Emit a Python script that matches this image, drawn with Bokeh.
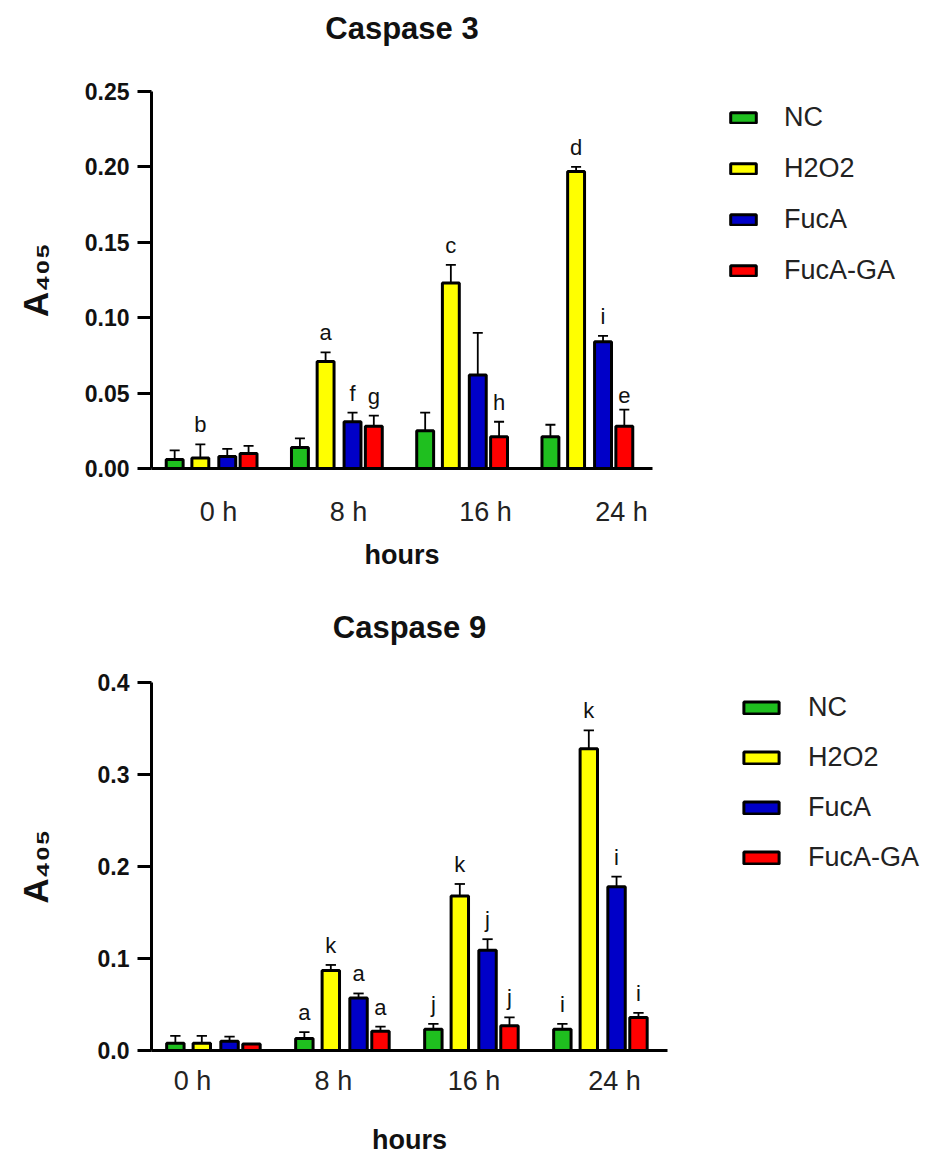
from bokeh.plotting import figure
from bokeh.models import (Range1d, FixedTicker, NumeralTickFormatter,
                          Legend, LegendItem, ColumnDataSource, Title)
from bokeh.layouts import column
from bokeh.embed import file_html
from bokeh.resources import INLINE
from bokeh.core.properties import value

# ---------------- data ----------------
groups = ["0 h", "8 h", "16 h", "24 h"]
series = ["NC", "H2O2", "FucA", "FucA-GA"]
colors = ["#1fbf1f", "#ffff00", "#0000c8", "#ff0000"]

# Caspase 3
c3_nc = [0.006, 0.014, 0.025, 0.021]
c3_h2o2 = [0.007, 0.071, 0.123, 0.197]
c3_fuca = [0.008, 0.031, 0.062, 0.084]
c3_fucaga = [0.010, 0.028, 0.021, 0.028]
c3_nc_err = [0.006, 0.006, 0.012, 0.008]
c3_h2o2_err = [0.009, 0.006, 0.012, 0.003]
c3_fuca_err = [0.005, 0.006, 0.028, 0.004]
c3_fucaga_err = [0.005, 0.007, 0.010, 0.011]
c3_nc_lab = ["", "", "", ""]
c3_h2o2_lab = ["b", "a", "c", "d"]
c3_fuca_lab = ["", "f", "", "i"]
c3_fucaga_lab = ["", "g", "h", "e"]
c3_yticks = [0.0, 0.05, 0.10, 0.15, 0.20, 0.25]

# Caspase 9
c9_nc = [0.008, 0.013, 0.023, 0.023]
c9_h2o2 = [0.008, 0.087, 0.168, 0.328]
c9_fuca = [0.010, 0.057, 0.109, 0.178]
c9_fucaga = [0.007, 0.021, 0.027, 0.036]
c9_nc_err = [0.008, 0.007, 0.006, 0.006]
c9_h2o2_err = [0.008, 0.006, 0.013, 0.020]
c9_fuca_err = [0.005, 0.005, 0.012, 0.011]
c9_fucaga_err = [0.0, 0.005, 0.009, 0.005]
c9_nc_lab = ["", "a", "j", "i"]
c9_h2o2_lab = ["", "k", "k", "k"]
c9_fuca_lab = ["", "a", "j", "i"]
c9_fucaga_lab = ["", "a", "j", "i"]
c9_yticks = [0.0, 0.1, 0.2, 0.3, 0.4]

FONT = "Liberation Sans"
bar_offsets = [0.185, 0.39, 0.605, 0.775]


def make_chart(title, means, errs, labels, ymax, yticks, yfmt,
               xlabel_pos, frame_w, frame_h, mb_left, mb_top, mb_bottom,
               total_w, tick_standoff, label_standoff, ytick_standoff,
               ylab_standoff, leg_loc, leg_glyph_w, leg_glyph_h, leg_spacing,
               gap_above_frame):
    p = figure(title=None, output_backend="svg", toolbar_location=None,
               frame_width=frame_w, frame_height=frame_h,
               min_border_left=mb_left, min_border_top=mb_top,
               min_border_bottom=mb_bottom,
               min_border_right=total_w - mb_left - frame_w,
               x_range=Range1d(0, 4), y_range=Range1d(0, ymax))
    p.grid.visible = False
    p.outline_line_color = None
    p.background_fill_color = "white"
    p.border_fill_color = "white"

    # spacer (nearest the frame) then the visible title above it
    p.add_layout(Title(text=".", text_font_size="1px", text_color="white",
                       standoff=gap_above_frame), "above")
    p.add_layout(Title(text=title, align="center", vertical_align="bottom",
                       standoff=0, text_font=FONT, text_font_style="bold",
                       text_font_size="31px", text_color="#111111"), "above")

    legend_items = []
    for k, name in enumerate(series):
        xs = [i + bar_offsets[k] for i in range(len(groups))]
        tops = [m + e for m, e in zip(means[k], errs[k])]
        src = ColumnDataSource(dict(x=xs, top=means[k], etop=tops,
                                    x0=[x - 0.04 for x in xs],
                                    x1=[x + 0.04 for x in xs],
                                    lab=labels[k]))
        p.segment(x0="x", y0="top", x1="x", y1="etop", source=src,
                  line_color="black", line_width=1.8)
        p.segment(x0="x0", y0="etop", x1="x1", y1="etop", source=src,
                  line_color="black", line_width=1.8)
        r = p.vbar(x="x", top="top", bottom=0, width=0.135, source=src,
                   fill_color=colors[k], line_color="black", line_width=3)
        p.text(x="x", y="etop", text="lab", source=src,
               text_font=value(FONT), text_font_size="22px",
               text_align="center", text_baseline="bottom", y_offset=-7,
               text_color="#111111")
        legend_items.append(LegendItem(label=name, renderers=[r]))

    # y axis
    ya = p.yaxis[0]
    ya.ticker = FixedTicker(ticks=yticks)
    ya.formatter = NumeralTickFormatter(format=yfmt)
    ya.axis_line_width = 3
    ya.major_tick_line_width = 3
    ya.major_tick_out = 14
    ya.major_tick_in = 0
    ya.minor_tick_line_color = None
    ya.major_label_standoff = ytick_standoff
    ya.major_label_text_font = FONT
    ya.major_label_text_font_style = "bold"
    ya.major_label_text_font_size = "23px"
    ya.major_label_text_color = "#111111"
    ya.axis_label = "A\u2084\u2080\u2085"
    ya.axis_label_standoff = ylab_standoff
    ya.axis_label_text_font = FONT
    ya.axis_label_text_font_style = "bold"
    ya.axis_label_text_font_size = "35px"
    ya.axis_label_text_color = "#111111"

    # x axis
    xa = p.xaxis[0]
    xa.ticker = FixedTicker(ticks=xlabel_pos)
    xa.major_label_overrides = {pos: g for pos, g in zip(xlabel_pos, groups)}
    xa.axis_line_width = 3
    xa.major_tick_line_color = None
    xa.minor_tick_line_color = None
    xa.major_tick_out = 0
    xa.major_tick_in = 0
    xa.major_label_standoff = tick_standoff
    xa.major_label_text_font = FONT
    xa.major_label_text_font_size = "27px"
    xa.major_label_text_color = "#222222"
    xa.axis_label = "hours"
    xa.axis_label_standoff = label_standoff
    xa.axis_label_text_font = FONT
    xa.axis_label_text_font_style = "bold"
    xa.axis_label_text_font_size = "27px"
    xa.axis_label_text_color = "#111111"

    legend = Legend(items=legend_items, location=leg_loc,
                    border_line_color=None, background_fill_alpha=0,
                    padding=0, margin=0, spacing=leg_spacing,
                    label_height=32, glyph_height=leg_glyph_h,
                    glyph_width=leg_glyph_w, label_standoff=25,
                    label_text_font=FONT, label_text_font_size="27px",
                    label_text_color="#222222")
    p.add_layout(legend, "right")
    return p


p1 = make_chart(
    "Caspase 3",
    [c3_nc, c3_h2o2, c3_fuca, c3_fucaga],
    [c3_nc_err, c3_h2o2_err, c3_fuca_err, c3_fucaga_err],
    [c3_nc_lab, c3_h2o2_lab, c3_fuca_lab, c3_fucaga_lab],
    0.25, c3_yticks, "0.00",
    [0.535, 1.573, 2.667, 3.753],
    501, 377, 144, 91, 107, 911, 28, 10, 8, 27,
    (75, 182), 32, 13, 19,
    43)

p2 = make_chart(
    "Caspase 9",
    [c9_nc, c9_h2o2, c9_fuca, c9_fucaga],
    [c9_nc_err, c9_h2o2_err, c9_fuca_err, c9_fucaga_err],
    [c9_nc_lab, c9_h2o2_lab, c9_fuca_lab, c9_fucaga_lab],
    0.4, c9_yticks, "0.0",
    [0.318, 1.41, 2.50, 3.59],
    516, 368, 151, 107, 101, 911, 15, 26, 8, 40,
    (72, 177), 44, 15, 18,
    35)

layout = column(p1, p2, spacing=0)
open("out.html", "w").write(file_html(layout, INLINE))
